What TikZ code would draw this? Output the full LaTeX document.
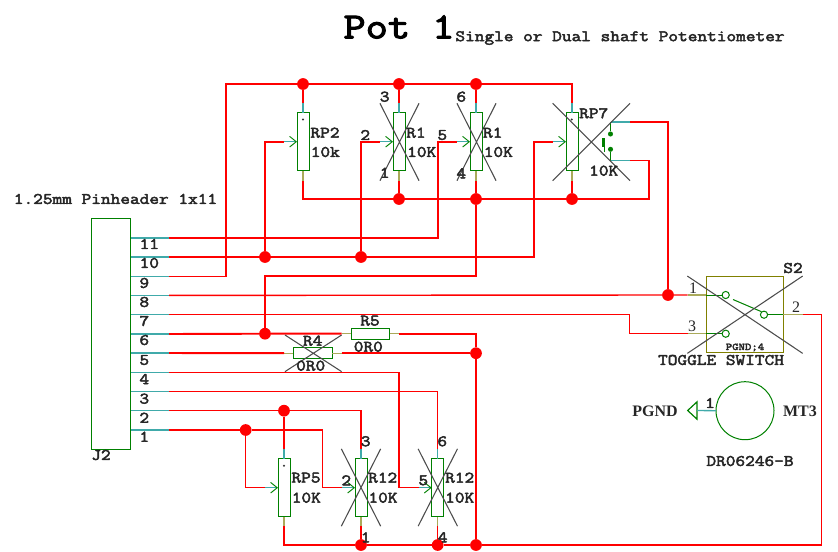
\documentclass[tikz,border=0pt]{standalone}
\usepackage{fontspec}
\setmainfont{Liberation Serif}
\setmonofont[FakeStretch=1.175,FakeBold=3]{Latin Modern Mono}
\usetikzlibrary{arrows.meta,shapes.misc,shapes.geometric}

\definecolor{netred}{RGB}{255,0,0}
\definecolor{partgreen}{RGB}{0,128,0}
\definecolor{pinteal}{RGB}{64,170,170}
\definecolor{pinolive}{RGB}{170,170,90}
\definecolor{boxolive}{RGB}{128,128,0}

\tikzstyle{every node}=[inner sep=0pt,outer sep=0pt]
\tikzstyle{lab}=[font=\ttfamily\fontsize{12}{12}\selectfont,text=black!85]
\tikzstyle{serif}=[font=\fontsize{12}{12}\selectfont,text=black!85]
\tikzstyle{serifb}=[font=\bfseries\fontsize{12}{12}\selectfont,text=black!85]

\begin{document}
\begin{tikzpicture}[
            x=0.75pt,y=-0.75pt,
            wire/.style={draw=netred,line width=1.05pt},
            fatwire/.style={draw=netred,line width=1.45pt},
            tealwire/.style={draw=pinteal,line width=1pt},
            olivewire/.style={draw=pinolive,line width=1pt},
            greenwire/.style={draw=partgreen,line width=0.75pt},
            wiper/.style={draw=pinteal,line width=0.9pt,-{Straight Barb[color=partgreen,line width=0.7pt,length=5pt,width=8pt]}},
            body/.style={draw=partgreen,fill=white,line width=0.75pt,minimum width=9pt,minimum height=43.5pt},
            resbody/.style={draw=partgreen,fill=white,line width=0.75pt,minimum width=29pt,minimum height=8.5pt},
            xcross/.style={cross out,draw=black!70,line width=0.8pt},
            junc/.style={circle,fill=netred,minimum size=8.8pt},
            topdot/.style={circle,fill=black!80,minimum size=1.7pt},
            contact/.style={circle,draw=partgreen,line width=0.75pt,minimum size=5.4pt},
            pushdot/.style={circle,fill=partgreen,minimum size=3.8pt}]
        \useasboundingbox (0,0) rectangle (838,551);

        % titles
        \node[font=\ttfamily\fontsize{27.5}{27.5}\selectfont,text=black] (title) at (399,27) {Pot 1};
        \node[lab] (subtitle) at (620,38) {Single or Dual shaft Potentiometer};
        \node[lab] (headname) at (115.5,199) {1.25mm Pinheader 1x11};

        % pin header
        \node[draw=partgreen,line width=0.75pt,minimum width=29pt,minimum height=173.5pt] (j2) at (111.3,333.8) {};
        \node[lab] (j2name) at (101,455) {J2};
        \coordinate (e11) at (169,238);
        \coordinate (e10) at (169,257);
        \coordinate (e9) at (169,276.3);
        \coordinate (e8) at (169,295.4);
        \coordinate (e7) at (169,314.7);
        \coordinate (e6) at (169,334);
        \coordinate (e5) at (169,353);
        \coordinate (e4) at (169,372.3);
        \coordinate (e3) at (169,391.7);
        \coordinate (e2) at (169,410.7);
        \coordinate (e1) at (169,430);
        \draw[tealwire] (e11) -- (e11 -| j2.east);
        \draw[tealwire] (e10) -- (e10 -| j2.east);
        \draw[tealwire] (e9) -- (e9 -| j2.east);
        \draw[tealwire] (e8) -- (e8 -| j2.east);
        \draw[tealwire] (e7) -- (e7 -| j2.east);
        \draw[tealwire] (e6) -- (e6 -| j2.east);
        \draw[tealwire] (e5) -- (e5 -| j2.east);
        \draw[tealwire] (e4) -- (e4 -| j2.east);
        \draw[tealwire] (e3) -- (e3 -| j2.east);
        \draw[tealwire] (e2) -- (e2 -| j2.east);
        \draw[tealwire] (e1) -- (e1 -| j2.east);
        \node[lab] (n11) at (149.3,244) {11};
        \node[lab] (n10) at (149.3,263) {10};
        \node[lab] (n9) at (144.3,283) {9};
        \node[lab] (n8) at (144.3,302) {8};
        \node[lab] (n7) at (144.3,321) {7};
        \node[lab] (n6) at (144.3,340) {6};
        \node[lab] (n5) at (144.3,360) {5};
        \node[lab] (n4) at (144.3,379) {4};
        \node[lab] (n3) at (144.3,398.7) {3};
        \node[lab] (n2) at (144.3,417.7) {2};
        \node[lab] (n1) at (144.3,436.7) {1};

        % upper row of pots
        \node[body] (rp2) at (303,141.7) {};
        \node[body] (r1a) at (399,141.7) {};
        \node[body] (r1b) at (476,141.7) {};
        \node[body] (rp7) at (572,141.7) {};
        \coordinate (rp2t) at (303,103);
        \coordinate (r1at) at (399,103);
        \coordinate (r1bt) at (476,103);
        \coordinate (rp7t) at (572,103);
        \coordinate (rp2b) at (303,181);
        \coordinate (r1ab) at (399,181);
        \coordinate (r1bb) at (476,181);
        \coordinate (rp7b) at (572,181);
        \coordinate (rp2w) at (284,141.7);
        \coordinate (r1aw) at (380,141.7);
        \coordinate (r1bw) at (457,141.7);
        \coordinate (rp7w) at (553,141.7);

        % lower row of pots
        \node[body] (rp5) at (284,487.7) {};
        \node[body] (r12a) at (361,487.7) {};
        \node[body] (r12b) at (437.7,487.7) {};
        \coordinate (rp5t) at (284,449);
        \coordinate (r12at) at (361,449);
        \coordinate (r12bt) at (437.7,449);
        \coordinate (rp5b) at (284,526);
        \coordinate (r12ab) at (361,526);
        \coordinate (r12bb) at (437.7,526);
        \coordinate (rp5w) at (265,487.7);
        \coordinate (r12aw) at (342,487.7);
        \coordinate (r12bw) at (419,487.7);

        % resistors
        \node[resbody] (r5) at (370.5,333.7) {};
        \node[resbody] (r4) at (312.8,353.2) {};
        \coordinate (r5l) at (341.7,333.7);
        \coordinate (r5r) at (399,333.7);
        \coordinate (r4l) at (284,353.2);
        \coordinate (r4r) at (341.7,353.2);

        % toggle switch
        \node[draw=boxolive,line width=0.85pt,minimum width=57.8pt,minimum height=57.5pt] (s2) at (744.8,314.4) {};
        \coordinate (s1o) at (687.7,295);
        \coordinate (s3o) at (687.7,333.7);
        \coordinate (s2o) at (802.7,314.7);
        \coordinate (s1b) at (706.3,295);
        \coordinate (s3b) at (706.3,333.7);
        \coordinate (s2b) at (783.3,314.7);
        \node[contact] (sc1) at (725.7,295) {};
        \node[contact] (sc3) at (725.7,333.7) {};
        \node[contact] (sc2) at (764,314.7) {};
        \coordinate (lev1) at (733,299.5);
        \coordinate (lev2) at (761.5,311.7);
        \draw[olivewire] (s1o) -- (s1b);
        \draw[olivewire] (s3o) -- (s3b);
        \draw[olivewire] (s2o) -- (s2b);
        \draw[greenwire] (s1b) -- (sc1);
        \draw[greenwire] (s3b) -- (sc3);
        \draw[greenwire] (s2b) -- (sc2);
        \draw[greenwire] (lev1) -- (lev2);

        % push switch on RP7
        \node[pushdot] (pd1) at (610.5,134) {};
        \node[pushdot] (pd2) at (610.5,149.3) {};
        \coordinate (pc1) at (610.5,122);
        \coordinate (pc2) at (610.5,160.7);
        \coordinate (po1) at (630,122);
        \coordinate (po2) at (630,160.7);
        \coordinate (pb1) at (603.5,138);
        \coordinate (pb2) at (603.5,146.5);
        \coordinate (pb3) at (604.7,151.5);
        \draw[greenwire] (pc1) -- (pd1);
        \draw[greenwire] (pc2) -- (pd2);
        \draw[tealwire] (pc1) -- (po1);
        \draw[tealwire] (pc2) -- (po2);
        \draw[draw=partgreen,line width=1.9pt] (pb1) -- (pb2);
        \draw[greenwire] (pb1 -| pb3) -- (pb3);

        % stubs
        \draw[tealwire] (rp2t) -- (rp2.north);
        \draw[tealwire] (r1at) -- (r1a.north);
        \draw[tealwire] (r1bt) -- (r1b.north);
        \draw[tealwire] (rp7t) -- (rp7.north);
        \draw[tealwire] (rp5t) -- (rp5.north);
        \draw[tealwire] (r12at) -- (r12a.north);
        \draw[tealwire] (r12bt) -- (r12b.north);
        \draw[olivewire] (rp2b) -- (rp2.south);
        \draw[olivewire] (r1ab) -- (r1a.south);
        \draw[olivewire] (r1bb) -- (r1b.south);
        \draw[olivewire] (rp7b) -- (rp7.south);
        \draw[olivewire] (rp5b) -- (rp5.south);
        \draw[olivewire] (r12ab) -- (r12a.south);
        \draw[olivewire] (r12bb) -- (r12b.south);
        \draw[olivewire] (r5l) -- (r5.west);
        \draw[olivewire] (r5r) -- (r5.east);
        \draw[olivewire] (r4l) -- (r4.west);
        \draw[olivewire] (r4r) -- (r4.east);
        \draw[wiper] (rp2w) -- (rp2.west);
        \draw[wiper] (r1aw) -- (r1a.west);
        \draw[wiper] (r1bw) -- (r1b.west);
        \draw[wiper] (rp7w) -- (rp7.west);
        \draw[wiper] (rp5w) -- (rp5.west);
        \draw[wiper] (r12aw) -- (r12a.west);
        \draw[wiper] (r12bw) -- (r12b.west);

        % junctions
        \node[junc] (dt1) at (303,84) {};
        \node[junc] (dt2) at (399,84) {};
        \node[junc] (dt3) at (476,84) {};
        \node[junc] (db1) at (399,199) {};
        \node[junc] (db2) at (476,199) {};
        \node[junc] (db3) at (572,199) {};
        \node[junc] (d10a) at (265,257) {};
        \node[junc] (d10b) at (361,257) {};
        \node[junc] (d8) at (668,295) {};
        \node[junc] (d6) at (265,333.7) {};
        \node[junc] (d5) at (476,353.2) {};
        \node[junc] (d2) at (284,410.7) {};
        \node[junc] (d1) at (245.7,430) {};
        \node[junc] (dl1) at (361,545) {};
        \node[junc] (dl2) at (437.7,545) {};
        \node[junc] (dl3) at (476,545) {};

        % bend points
        \coordinate (toplft) at (226,84);
        \coordinate (toprgt) at (572,84);
        \coordinate (botlft) at (303,199);
        \coordinate (botrgt) at (649,199);
        \coordinate (n5w) at (438,141.7);
        \coordinate (n10w) at (534,141.7);
        \coordinate (n6r) at (476,276.3);
        \coordinate (n6l) at (265,276.3);
        \coordinate (n4w) at (399,487.7);
        \coordinate (n1w) at (322.3,487.7);
        \coordinate (k7) at (629.5,333.7);
        \coordinate (lowrgt) at (821.7,545);
        \coordinate (uprgt) at (821.7,314.7);

        % nets
        \draw[fatwire] (e11) -| (n5w) -- (r1bw);
        \draw[fatwire] (e10) -| (n10w) -- (rp7w);
        \draw[fatwire] (d10a) |- (rp2w);
        \draw[fatwire] (d10b) |- (r1aw);
        \draw[wire] (e9) -| (toplft) -- (toprgt) -- (rp7t);
        \draw[wire] (dt1) -- (rp2t);
        \draw[wire] (dt2) -- (r1at);
        \draw[wire] (dt3) -- (r1bt);
        \draw[wire] (rp2b) -- (botlft) -- (botrgt) |- (po2);
        \draw[wire] (r1ab) -- (db1);
        \draw[wire] (r1bb) -- (db2);
        \draw[wire] (rp7b) -- (db3);
        \draw[wire] (po1) -| (d8);
        \draw[wire] (e8) -- (d8) -- (s1o);
        \draw[wire] (e7) -| (k7) -- (s3o);
        \draw[fatwire] (db2) -- (n6r) -- (n6l) -- (d6);
        \draw[fatwire] (e6) -- (d6) -- (r5l);
        \draw[fatwire] (r5r) -| (d5) -- (dl3);
        \draw[fatwire] (e5) -- (r4l);
        \draw[fatwire] (r4r) -- (d5);
        \draw[wire] (e4) -| (n4w) -- (r12bw);
        \draw[wire] (e3) -| (r12bt);
        \draw[wire] (e2) -- (d2) -| (r12at);
        \draw[wire] (d2) -- (rp5t);
        \draw[wire] (e1) -- (d1) -| (n1w) -- (r12aw);
        \draw[wire] (d1) |- (rp5w);
        \draw[fatwire] (rp5b) |- (dl1) -- (dl2) -- (dl3) -- (lowrgt);
        \draw[wire] (lowrgt) -- (uprgt) -- (s2o);
        \draw[wire] (r12ab) -- (dl1);
        \draw[wire] (r12bb) -- (dl2);

        % dots on the pot bodies
        \node[topdot] (rp2dot) at (303,119.5) {};
        \node[topdot] (rp7dot) at (571.7,119.5) {};
        \node[topdot] (rp5dot) at (284,465.7) {};

        % crossed out parts
        \node[xcross,minimum width=29.3pt,minimum height=58pt] (xr1a) at (399.5,142) {};
        \node[xcross,minimum width=29.3pt,minimum height=58pt] (xr1b) at (476.5,142) {};
        \node[xcross,minimum width=58pt,minimum height=58pt] (xrp7) at (591.3,142) {};
        \node[xcross,minimum width=29.5pt,minimum height=58pt] (xr12a) at (361,487.5) {};
        \node[xcross,minimum width=29.5pt,minimum height=58pt] (xr12b) at (437.8,487.5) {};
        \node[xcross,minimum width=42.5pt,minimum height=27.5pt] (xr4) at (313.3,353.3) {};
        \node[xcross,minimum width=86.5pt,minimum height=58pt] (xs2) at (745,314.7) {};

        % part labels
        \node[lab] (lrp2) at (325,132.7) {RP2};
        \node[lab] (vrp2) at (325.3,152) {10k};
        \node[lab] (pa3) at (384.7,96.7) {3};
        \node[lab] (pa2) at (365.3,135) {2};
        \node[lab] (pa1) at (384.7,172.7) {1};
        \node[lab] (lr1a) at (416,132.7) {R1};
        \node[lab] (vr1a) at (421.7,152) {10K};
        \node[lab] (pb6) at (461.3,96.7) {6};
        \node[lab] (pb5) at (442.3,135) {5};
        \node[lab] (pb4) at (461.3,173.3) {4};
        \node[lab] (lr1b) at (492.7,132.7) {R1};
        \node[lab] (vr1b) at (498.3,152) {10K};
        \node[lab] (lrp7) at (593.7,113.3) {RP7};
        \node[lab] (vrp7) at (603.7,170.7) {10K};
        \node[lab] (lr5) at (370,320.7) {R5};
        \node[lab] (vr5) at (368.3,346.7) {0R0};
        \node[lab] (lr4) at (312.7,340.7) {R4};
        \node[lab] (vr4) at (310.7,365.7) {0R0};
        \node[lab] (lrp5) at (306,477.7) {RP5};
        \node[lab] (vrp5) at (306.3,497.7) {10K};
        \node[lab] (pc3) at (365.7,441.3) {3};
        \node[lab] (pc2l) at (346.3,480.3) {2};
        \node[lab] (pc1l) at (365.7,537.3) {1};
        \node[lab] (lr12a) at (382.7,477.7) {R12};
        \node[lab] (vr12a) at (383,497.7) {10K};
        \node[lab] (pd6) at (442.3,441.3) {6};
        \node[lab] (pd5) at (423.3,480.3) {5};
        \node[lab] (pd4) at (442.7,537.3) {4};
        \node[lab] (lr12b) at (459.7,477.7) {R12};
        \node[lab] (vr12b) at (459.7,497.7) {10K};

        % switch labels
        \node[lab] (ls2) at (793,268) {S2};
        \node[serif] (s1n) at (693,288) {1};
        \node[serif] (s3n) at (692,326) {3};
        \node[serif] (s2n) at (796,307) {2};
        \node[font=\ttfamily\fontsize{7.7}{7.7}\selectfont,text=black!85] (spg) at (745,347.5) {PGND;4};
        \node[lab] (vs2) at (721,360) {TOGGLE SWITCH};

        % mounting hole
        \node[circle,draw=partgreen,line width=0.75pt,minimum size=43.5pt] (mt3) at (745,410.7) {};
        \node[isosceles triangle,shape border rotate=180,isosceles triangle apex angle=88,isosceles triangle stretches,draw=partgreen,line width=0.9pt,minimum height=7pt,minimum width=13pt,anchor=lower side] (pgnd) at (697,410.5) {};
        \draw[tealwire] (mt3.west) -- (pgnd.lower side);
        \node[lab] (m1) at (710,403) {1};
        \node[serifb] (lpg) at (655,411) {PGND};
        \node[serifb] (lmt) at (800,411) {MT3};
        \node[lab] (vmt) at (750,461) {DR06246-B};
    \end{tikzpicture}
\end{document}
